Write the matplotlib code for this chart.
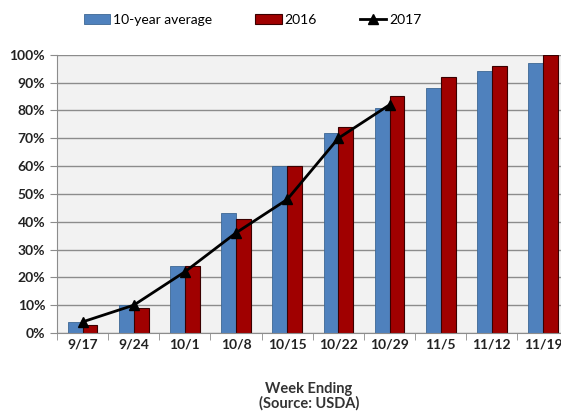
import matplotlib.pyplot as plt
import numpy as np
from matplotlib.ticker import FixedLocator, PercentFormatter

# weekly progress, percent complete
weeks = ['9/17', '9/24', '10/1', '10/8', '10/15', '10/22', '10/29', '11/5', '11/12', '11/19']
avg_10yr = [4, 10, 24, 43, 60, 72, 81, 88, 94, 97]
y2016 = [3, 9, 24, 41, 60, 74, 85, 92, 96, 100]
y2017 = [4, 10, 22, 36, 48, 70, 82]

plt.rcParams['font.family'] = ['Lato', 'DejaVu Sans']

fig = plt.figure(figsize=(5.61, 4.16), dpi=100)
ax = fig.add_axes([0.1016, 0.1995, 0.912, 0.669])
ax.set_facecolor('#f2f2f2')

x = np.arange(len(weeks))
w = 0.29
b1 = ax.bar(x - w / 2, avg_10yr, w, color='#4f81bd', edgecolor='#3d6794', linewidth=0.6,
            label='10-year average', zorder=2)
b2 = ax.bar(x + w / 2, y2016, w, color='#a00000', edgecolor='#3a0000', linewidth=0.8,
            label='2016', zorder=2)
l1, = ax.plot(x[:len(y2017)], y2017, color='black', lw=2, marker='^', ms=7,
              label='2017', zorder=3)

ax.set_xlim(-0.5, 9.5)
ax.set_ylim(0, 100)
ax.set_yticks(range(0, 101, 10))
ax.yaxis.set_major_formatter(PercentFormatter(decimals=0))
ax.grid(axis='y', color='#8c8c8c', lw=1, zorder=1)

ax.set_xticks(x)
ax.set_xticklabels(weeks)
ax.xaxis.set_minor_locator(FixedLocator(np.arange(-0.5, 10, 1)))
ax.tick_params(axis='x', which='major', length=0, pad=4, labelsize=10, colors='#222222')
ax.tick_params(axis='x', which='minor', length=5, color='#8c8c8c')
ax.tick_params(axis='y', length=5, color='#8c8c8c', labelsize=10, colors='#222222')
for lab in ax.get_xticklabels() + ax.get_yticklabels():
    lab.set_fontweight('bold')

for s in ['top', 'right']:
    ax.spines[s].set_visible(False)
for s in ['left', 'bottom']:
    ax.spines[s].set_color('#8c8c8c')

fig.text(0.551, 0.047, 'Week Ending\n(Source: USDA)', ha='center', va='center',
         fontsize=10.5, fontweight='bold', color='#333333', linespacing=1.05)

fig.legend([b1, b2, l1], ['10-year average', '2016', '2017'], loc='center',
           bbox_to_anchor=(0.45, 0.953), ncol=3, frameon=False, fontsize=10,
           handlelength=1.9, handletextpad=0.2, columnspacing=3.1)

fig.savefig('out.png', dpi=100)
